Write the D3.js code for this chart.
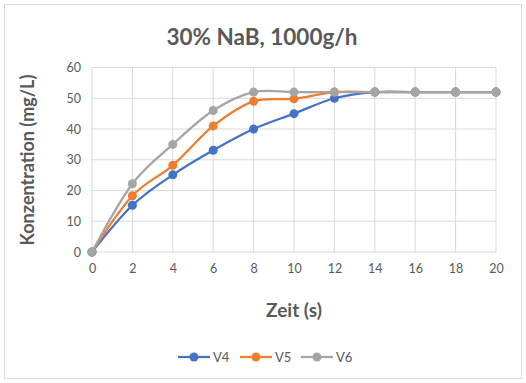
<!DOCTYPE html>
<html>
<head>
<meta charset="utf-8">
<script src="https://cdn.jsdelivr.net/npm/d3@7"></script>
<style>
body { margin: 0; background: #fff; }
text { font-family: Lato, "Open Sans", sans-serif; fill: #595959; }
</style>
</head>
<body>
<div id="chart"></div>
<script>
const zeit = [0, 2, 4, 6, 8, 10, 12, 14, 16, 18, 20];
const v4 = [0, 15.2, 25.1, 33.1, 40, 45, 50, 52, 52, 52, 52];
const v5 = [0, 18.3, 28.2, 41, 49, 49.8, 52, 52, 52, 52, 52];
const v6 = [0, 22.2, 35, 46, 52, 52, 52, 52, 52, 52, 52];
const seriesNames = ['V4', 'V5', 'V6'];
const colors = ['#4472c4', '#ed7d31', '#a5a5a5'];
const yTicks = [0, 10, 20, 30, 40, 50, 60];
const xTicks = zeit;

const W = 526, H = 383;
const svg = d3.select("#chart").append("svg")
    .attr("width", W).attr("height", H);

svg.append("rect")
    .attr("x", 4.5).attr("y", 4.5)
    .attr("width", 517).attr("height", 374)
    .attr("fill", "#fff").attr("stroke", "#d9d9d9");

const x = d3.scaleLinear().domain([0, 20]).range([92, 496]);
const y = d3.scaleLinear().domain([0, 60]).range([252, 67.5]);

// gridlines
svg.append("g")
    .selectAll("line.h").data(yTicks).enter().append("line")
    .attr("x1", x(0)).attr("x2", x(20))
    .attr("y1", d => y(d)).attr("y2", d => y(d))
    .attr("stroke", "#d9d9d9");
svg.append("g")
    .selectAll("line.v").data(xTicks).enter().append("line")
    .attr("x1", d => x(d)).attr("x2", d => x(d))
    .attr("y1", y(0)).attr("y2", y(60))
    .attr("stroke", "#d9d9d9");

// axes
const xAxis = svg.append("g")
    .attr("transform", "translate(0," + y(0) + ")")
    .call(d3.axisBottom(x).tickValues(xTicks).tickSize(0).tickPadding(12));
const yAxis = svg.append("g")
    .attr("transform", "translate(" + x(0) + ",0)")
    .call(d3.axisLeft(y).tickValues(yTicks).tickSize(0).tickPadding(11));
[xAxis, yAxis].forEach(a => {
    a.select(".domain").remove();
    a.selectAll("text").style("font-size", "12.5px").style("fill", "#595959")
        .style("font-family", "Lato, sans-serif");
});

// series
const all = [v4, v5, v6];
const line = d3.line()
    .x((d, i) => x(zeit[i]))
    .y(d => y(d))
    .curve(d3.curveCardinal.tension(0));

// draw in order V4, V5, V6 so V6 is on top
all.forEach((vals, k) => {
    svg.append("path")
        .datum(vals)
        .attr("fill", "none")
        .attr("stroke", colors[k])
        .attr("stroke-width", 2.25)
        .attr("d", line);
    svg.append("g").selectAll("circle")
        .data(vals).enter().append("circle")
        .attr("cx", (d, i) => x(zeit[i]))
        .attr("cy", d => y(d))
        .attr("r", 4.5)
        .attr("fill", colors[k]);
});

// title
svg.append("text")
    .attr("x", 262).attr("y", 45)
    .attr("text-anchor", "middle")
    .style("font-size", "22.5px")
    .style("font-weight", "bold")
    .text("30% NaB, 1000g/h");

// axis titles
svg.append("text")
    .attr("x", 294).attr("y", 317)
    .attr("text-anchor", "middle")
    .style("font-size", "19px")
    .style("font-weight", "bold")
    .text("Zeit (s)");
svg.append("text")
    .attr("transform", "translate(34," + 160 + ") rotate(-90)")
    .attr("text-anchor", "middle")
    .style("font-size", "18px")
    .style("font-weight", "bold")
    .text("Konzentration (mg/L)");

// legend
const legend = svg.append("g").selectAll("g")
    .data(seriesNames).enter().append("g")
    .attr("transform", (d, i) => "translate(" + [178, 240, 301][i] + ",357)");
legend.append("line")
    .attr("x1", 0).attr("x2", 32)
    .attr("stroke", (d, i) => colors[i]).attr("stroke-width", 2.25);
legend.append("circle")
    .attr("cx", 16).attr("r", 4.5)
    .attr("fill", (d, i) => colors[i]);
legend.append("text")
    .attr("x", 35).attr("dy", "0.35em")
    .style("font-size", "13px")
    .text(d => d);
</script>
</body>
</html>
